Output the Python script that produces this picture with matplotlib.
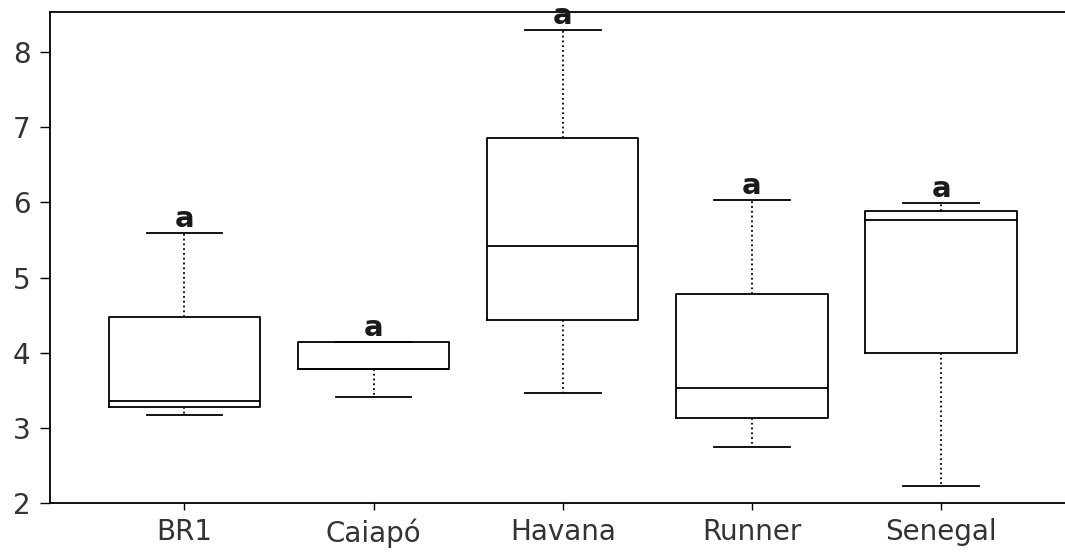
import matplotlib
matplotlib.use("Agg")
import matplotlib.pyplot as plt

plt.rcParams['font.family'] = ['DejaVu Sans']

cultivars = ['BR1', 'Caiapó', 'Havana', 'Runner', 'Senegal']
whisker_low = [3.17, 3.41, 3.46, 2.74, 2.22]
q1 = [3.28, 3.78, 4.43, 3.13, 4.00]
median = [3.35, 3.78, 5.42, 3.53, 5.77]
q3 = [4.47, 4.14, 6.86, 4.78, 5.88]
whisker_high = [5.59, 4.14, 8.29, 6.03, 5.99]
letters = ['a', 'a', 'a', 'a', 'a']

stats = []
for name, lo, a, m, b, hi in zip(cultivars, whisker_low, q1, median, q3, whisker_high):
    stats.append({'label': name, 'whislo': lo, 'q1': a, 'med': m, 'q3': b, 'whishi': hi})

fig = plt.figure(figsize=(10.65, 5.52), dpi=100)
ax = fig.add_axes([0.047, 0.089, 0.953, 0.89])

ax.bxp(stats, positions=range(1, 6), widths=0.8, showfliers=False,
       boxprops=dict(color='black', linewidth=1.3),
       medianprops=dict(color='black', linewidth=1.3),
       whiskerprops=dict(color='black', linewidth=1.3, linestyle=':'),
       capprops=dict(color='black', linewidth=1.3),
       capwidths=0.4)

# significance letters above the upper whisker
for i, (hi, lab) in enumerate(zip(whisker_high, letters)):
    ax.annotate(lab, (i + 1, hi), xytext=(0, 4.5), textcoords='offset points',
                ha='center', va='baseline', fontsize=21, fontweight='bold',
                color='#1a1a1a', annotation_clip=False, zorder=5)

ax.set_xlim(0.29, 5.655)
ax.set_ylim(2, 8.54)
ax.set_yticks([2, 3, 4, 5, 6, 7, 8])
ax.tick_params(axis='y', length=7, width=1, pad=7, labelsize=20, labelcolor='#333333')
ax.tick_params(axis='x', length=5, width=1, pad=6, labelsize=20, labelcolor='#333333')
for side in ['left', 'bottom', 'top']:
    ax.spines[side].set_linewidth(1.3)
ax.spines['right'].set_visible(False)

fig.savefig('out.png', dpi=100)
